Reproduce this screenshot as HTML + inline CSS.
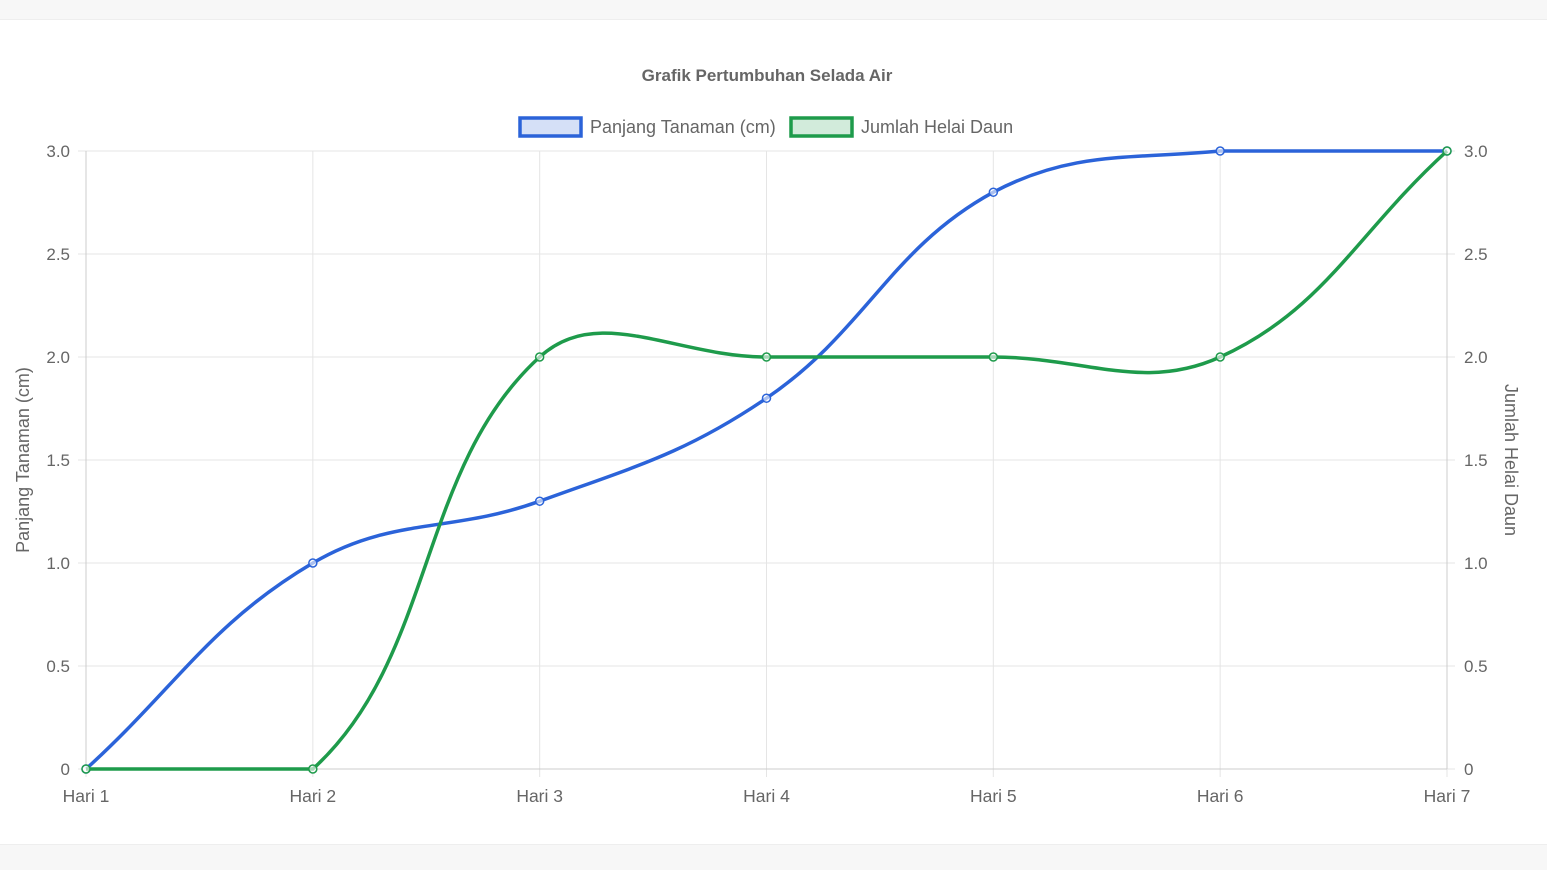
<!DOCTYPE html>
<html><head><meta charset="utf-8"><style>
html,body{margin:0;padding:0;width:1547px;height:870px;background:#f7f7f7;overflow:hidden;font-family:"Liberation Sans",Arial,sans-serif}
#card{position:absolute;left:0;top:19px;width:1547px;height:824px;background:#fff;border-top:1px solid #eee;border-bottom:1px solid #eee}
svg{position:absolute;left:0;top:0}
</style></head><body>
<div id="card"></div>
<svg id="chart" width="1547" height="870"></svg>
<script>
const categories=["Hari 1","Hari 2","Hari 3","Hari 4","Hari 5","Hari 6","Hari 7"];
const lengthValues=[0,1,1.3,1.8,2.8,3,3];
const leafValues=[0,0,2,2,2,2,3];
const yTicks=[0,0.5,1,1.5,2,2.5,3];
const yTickLabels=["0","0.5","1.0","1.5","2.0","2.5","3.0"];
const L=86,R=1447,T=151,B=769;
const NS="http://www.w3.org/2000/svg";
const svg=document.getElementById('chart');
function xs(i){return L+(R-L)*i/(categories.length-1);}
function ys(v){return B-(B-T)*v/3;}
function mk(tag,attrs,parent){const e=document.createElementNS(NS,tag);for(const k in attrs)e.setAttribute(k,attrs[k]);(parent||svg).appendChild(e);return e;}
yTicks.forEach((t,i)=>{
  const g=mk('line',{x1:L-8,x2:R+8,y1:ys(t),y2:ys(t),stroke:'#e5e5e5','stroke-width':1});
  
  
  const a=mk('text',{x:L-16,y:ys(t)+6,'text-anchor':'end','font-size':17,fill:'#666'});a.textContent=yTickLabels[i];
  
  
  const b=mk('text',{x:R+17,y:ys(t)+6,'text-anchor':'start','font-size':17,fill:'#666'});b.textContent=yTickLabels[i];
  
  
});
categories.forEach((c,i)=>{
  const g=mk('line',{x1:xs(i),x2:xs(i),y1:T,y2:B+8,stroke:'#e5e5e5','stroke-width':1});
  
  
  const t=mk('text',{x:xs(i),y:802,'text-anchor':'middle','font-size':17.5,fill:'#666'});t.textContent=c;
  
  
});
mk('line',{x1:L,x2:L,y1:T,y2:B,stroke:'#ccc'});
mk('line',{x1:R,x2:R,y1:T,y2:B,stroke:'#ccc'});
mk('line',{x1:L,x2:R,y1:B,y2:B,stroke:'#ccc'});
let e=mk('text',{x:767,y:81,'text-anchor':'middle','font-size':17,'font-weight':'bold',fill:'#666'});e.textContent='Grafik Pertumbuhan Selada Air';


e=mk('text',{x:0,y:0,'text-anchor':'middle','font-size':18,fill:'#666',transform:'translate(29,460) rotate(-90)'});e.textContent='Panjang Tanaman (cm)';


e=mk('text',{x:0,y:0,'text-anchor':'middle','font-size':18,fill:'#666',transform:'translate(1505,460) rotate(90)'});e.textContent='Jumlah Helai Daun';


function legend(x,label,col,fill,name){
  const g=mk('g',{});
  
  
  mk('rect',{x:x,y:118,width:61,height:18,fill:fill,stroke:col,'stroke-width':3.5},g);
  const t=mk('text',{x:x+70,y:133,'font-size':18,fill:'#666'},g);t.textContent=label;
}
legend(520,'Panjang Tanaman (cm)','#2b63d9','rgba(43,99,217,0.2)','legend-entry-length');
legend(791,'Jumlah Helai Daun','#1e9b4b','rgba(30,155,75,0.2)','legend-entry-leaves');
function path(vals){
  const p=vals.map((v,i)=>[xs(i),ys(v)]);const t=0.4;
  const cps=p.map((c,i)=>{
    const pr=p[i-1]||c,nx=p[i+1]||c;
    const d01=Math.hypot(c[0]-pr[0],c[1]-pr[1]),d12=Math.hypot(nx[0]-c[0],nx[1]-c[1]);
    let s01=d01/(d01+d12)||0,s12=d12/(d01+d12)||0;
    const fa=t*s01,fb=t*s12;
    const clampY=y=>Math.max(T,Math.min(B,y));
    return [[c[0]-fa*(nx[0]-pr[0]),clampY(c[1]-fa*(nx[1]-pr[1]))],[c[0]+fb*(nx[0]-pr[0]),clampY(c[1]+fb*(nx[1]-pr[1]))]];
  });
  let d='M'+p[0][0]+','+p[0][1];
  for(let i=1;i<p.length;i++)d+=' C'+cps[i-1][1][0]+','+cps[i-1][1][1]+' '+cps[i][0][0]+','+cps[i][0][1]+' '+p[i][0]+','+p[i][1];
  return {d,p};
}
function series(vals,col,name){
  const r=path(vals);
  const pl=mk('path',{d:r.d,fill:'none',stroke:col,'stroke-width':3.5});
  
  
  r.p.forEach(q=>{
    const c=mk('circle',{cx:q[0],cy:q[1],r:4,fill:'rgba(255,255,255,0.6)',stroke:col,'stroke-width':1.5});
    
    
  });
}
series(lengthValues,'#2b63d9','length-series');
series(leafValues,'#1e9b4b','leaves-series');
</script>
</body></html>
